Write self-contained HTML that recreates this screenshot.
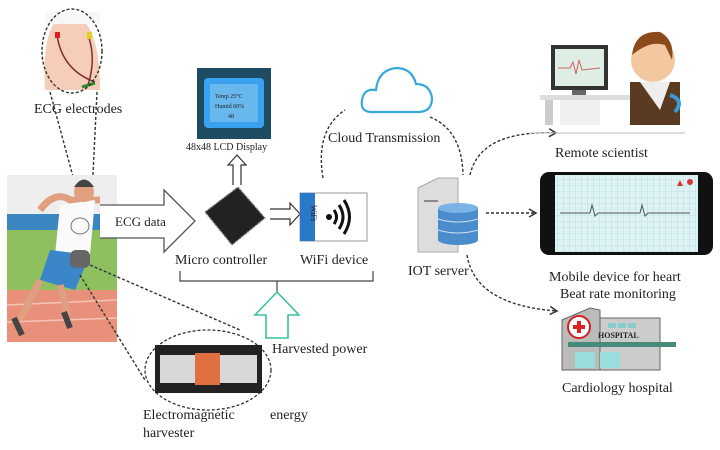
<!DOCTYPE html>
<html><head><meta charset="utf-8"><style>
html,body{margin:0;padding:0;background:#fff;}
svg{display:block;}
text{font-family:"Liberation Serif",serif;fill:#222;}
</style></head><body>
<svg width="720" height="450" viewBox="0 0 720 450" xmlns="http://www.w3.org/2000/svg">
<defs>
<marker id="ah" markerWidth="10" markerHeight="10" refX="8" refY="5" orient="auto" markerUnits="userSpaceOnUse"><path d="M1,1 L8,5 L1,9" fill="none" stroke="#333" stroke-width="1.5"/></marker>
<pattern id="grid" width="6" height="6" patternUnits="userSpaceOnUse"><rect width="6" height="6" fill="#dff3f5"/><path d="M6,0V6M0,6H6" stroke="#9dd3da" stroke-width="0.6"/></pattern>
</defs>

<!-- ECG torso -->
<path d="M45,90 Q42,40 55,22 Q70,12 85,22 Q100,40 100,90 Z" fill="#f5cdb8"/>
<rect x="45" y="12" width="55" height="12" fill="#f7f7f7"/>
<path d="M57,35 Q62,70 95,82" fill="none" stroke="#7a3030" stroke-width="1.5"/>
<path d="M89,38 Q96,60 88,85" fill="none" stroke="#7a3030" stroke-width="1.5"/>
<rect x="55" y="32" width="5" height="6" fill="#d92020"/>
<rect x="87" y="32" width="5" height="7" fill="#e0d020"/>
<path d="M82,87 L95,83" stroke="#2a8a2a" stroke-width="3"/>
<ellipse cx="72" cy="51" rx="30" ry="42" fill="none" stroke="#333" stroke-width="1.4" stroke-dasharray="3,2"/>
<text x="34" y="113" font-size="14">ECG electrodes</text>
<path d="M50,92 L78,195" stroke="#333" stroke-width="1.4" stroke-dasharray="3,2"/>
<path d="M97,92 L92,195" stroke="#333" stroke-width="1.4" stroke-dasharray="3,2"/>

<!-- runner -->
<rect x="7" y="175" width="110" height="167" fill="#eeeeee"/>
<rect x="7" y="214" width="110" height="16" fill="#3a86c0"/>
<rect x="7" y="230" width="110" height="60" fill="#8ec060"/>
<rect x="7" y="290" width="110" height="52" fill="#e9907a"/>
<path d="M7,305 L117,300 M7,322 L117,318" stroke="#f4c4b8" stroke-width="1.5"/>
<path d="M40,210 Q55,190 70,200 L100,200" stroke="#e0a080" stroke-width="7" fill="none"/>
<path d="M60,205 L95,200 L90,255 L55,255 Z" fill="#fafafa"/>
<path d="M50,250 L90,255 L75,290 L40,280 Z" fill="#3a86c8"/>
<circle cx="84" cy="192" r="10" fill="#e0a080"/>
<path d="M74,187 Q84,172 94,187 Z" fill="#444"/>
<path d="M40,280 L20,320 M60,285 L68,315" stroke="#e0a080" stroke-width="7"/>
<path d="M14,318 L22,335 M64,312 L70,328" stroke="#444" stroke-width="6"/>
<ellipse cx="80" cy="226" rx="9" ry="8" fill="none" stroke="#777" stroke-width="1"/>
<rect x="70" y="250" width="20" height="18" rx="6" fill="#666"/>
<!-- knee dashed lines -->
<path d="M90,265 L240,330" stroke="#333" stroke-width="1.4" stroke-dasharray="3,2"/>
<path d="M80,275 L145,380" stroke="#333" stroke-width="1.4" stroke-dasharray="3,2"/>

<!-- ECG data arrow -->
<path d="M100,205 L164,205 L164,190 L195,221 L164,252 L164,238 L100,238" fill="#fff" stroke="#555" stroke-width="1.3"/>
<text x="115" y="226" font-size="13">ECG data</text>

<!-- LCD -->
<rect x="197" y="68" width="74" height="71" fill="#1d4c62"/>
<rect x="204" y="78" width="60" height="50" rx="4" fill="#3aa0f0"/>
<rect x="210" y="84" width="48" height="38" fill="#68b8ee"/>
<text x="215" y="98" font-size="6" fill="#1a3a70">Temp 25°C</text>
<text x="215" y="108" font-size="6" fill="#1a3a70">Humid 60%</text>
<text x="228" y="118" font-size="6" fill="#1a3a70">48</text>
<text x="186" y="150" font-size="10">48x48 LCD Display</text>
<!-- up arrow to LCD -->
<path d="M233,185 L233,165 L228,165 L237,155 L246,165 L241,165 L241,185" fill="#fff" stroke="#333" stroke-width="1.2"/>

<!-- chip -->
<path d="M205,212 L238,187 L265,218 L232,245 Z" fill="#222" stroke="#888" stroke-width="1.5" stroke-dasharray="1,1"/>
<!-- right arrow -->
<path d="M270,209 L290,209 L290,203 L300,214 L290,225 L290,219 L270,219" fill="#fff" stroke="#333" stroke-width="1.2"/>

<!-- wifi -->
<rect x="300" y="193" width="67" height="48" fill="#fff" stroke="#999" stroke-width="1"/>
<rect x="300" y="193" width="15" height="48" fill="#2a78c8"/>
<text x="0" y="0" font-size="8" fill="#fff" transform="translate(311,205) rotate(90)" font-family="Liberation Sans,sans-serif">WiFi</text>
<circle cx="329" cy="217" r="3" fill="#111"/>
<path d="M334,210 Q339,217 334,224 M339,205 Q347,217 339,229 M344,200 Q355,217 344,234" fill="none" stroke="#111" stroke-width="3"/>

<text x="175" y="264" font-size="14">Micro controller</text>
<text x="300" y="264" font-size="14">WiFi device</text>
<path d="M180,271 L180,281 L373,281 L373,271 M277,281 L277,292" fill="none" stroke="#444" stroke-width="1.2"/>
<!-- green up arrow -->
<path d="M266,338 L266,315 L255,315 L277,292 L299,315 L288,315 L288,338 Z" fill="#fff" stroke="#3cc0a0" stroke-width="1.6"/>
<text x="272" y="353" font-size="14">Harvested power</text>

<!-- harvester -->
<ellipse cx="208" cy="370" rx="63" ry="40" fill="none" stroke="#333" stroke-width="1.3" stroke-dasharray="3,2"/>
<rect x="155" y="345" width="107" height="48" fill="#222"/>
<rect x="160" y="355" width="97" height="28" fill="#d8d8d8"/>
<rect x="195" y="353" width="25" height="32" fill="#e07040"/>
<text x="143" y="419" font-size="14">Electromagnetic</text>
<text x="270" y="419" font-size="14">energy</text>
<text x="143" y="437" font-size="14">harvester</text>

<!-- cloud -->
<path d="M372,112 Q360,112 362,100 Q364,88 376,90 Q378,70 396,68 Q412,68 416,84 Q430,84 432,98 Q432,112 418,112 Z" fill="#fff" stroke="#38a8d8" stroke-width="2.2"/>
<text x="328" y="142" font-size="14">Cloud Transmission</text>
<path d="M323,178 Q315,130 345,110" fill="none" stroke="#333" stroke-width="1.4" stroke-dasharray="3,2"/>
<path d="M430,117 Q462,130 463,175" fill="none" stroke="#333" stroke-width="1.4" stroke-dasharray="3,2"/>

<!-- server -->
<path d="M418,188 L438,178 L458,178 L458,252 L418,252 Z" fill="#ddd" stroke="#aaa"/>
<rect x="424" y="200" width="14" height="2" fill="#888"/>
<rect x="438" y="208" width="40" height="32" fill="#4a8ccc"/>
<ellipse cx="458" cy="208" rx="20" ry="5" fill="#7ab4e6"/>
<ellipse cx="458" cy="240" rx="20" ry="5" fill="#4a8ccc"/>
<path d="M438,219 Q458,225 478,219 M438,230 Q458,236 478,230" stroke="#cde" stroke-width="1" fill="none"/>
<text x="408" y="275" font-size="14">IOT server</text>

<path d="M470,175 Q480,130 556,133" fill="none" stroke="#333" stroke-width="1.4" stroke-dasharray="3,2" marker-end="url(#ah)"/>
<path d="M486,213 L536,213" fill="none" stroke="#333" stroke-width="1.4" stroke-dasharray="3,2" marker-end="url(#ah)"/>
<path d="M467,255 Q475,305 557,311" fill="none" stroke="#333" stroke-width="1.4" stroke-dasharray="3,2" marker-end="url(#ah)"/>

<!-- scientist -->
<rect x="551" y="45" width="57" height="45" fill="#333"/>
<rect x="555" y="49" width="49" height="37" fill="#dfeee4"/>
<path d="M558,68 L570,68 L573,62 L576,74 L579,60 L582,70 L600,68" fill="none" stroke="#d06060" stroke-width="1"/>
<rect x="572" y="90" width="14" height="6" fill="#666"/>
<rect x="540" y="95" width="140" height="5" fill="#ddd"/>
<rect x="545" y="100" width="8" height="25" fill="#ccc"/>
<rect x="560" y="100" width="40" height="25" fill="#f0f0f0"/>
<path d="M530,133 L685,133" stroke="#bbb"/>
<circle cx="653" cy="60" r="22" fill="#f3c8a0"/>
<path d="M632,55 Q635,30 660,32 Q675,40 672,60 L665,45 Q650,40 632,55 Z" fill="#8a4a1a"/>
<path d="M630,82 L680,82 L680,125 L630,125 Z" fill="#5a3a20"/>
<path d="M640,82 L670,82 L660,110 Z" fill="#eee"/>
<path d="M670,95 Q685,100 675,112" stroke="#3a9ad8" stroke-width="4" fill="none"/>
<text x="555" y="157" font-size="14">Remote scientist</text>

<!-- phone -->
<rect x="540" y="172" width="173" height="83" rx="9" fill="#111"/>
<rect x="555" y="175" width="143" height="77" fill="url(#grid)"/>
<path d="M560,213 L590,213 L592,205 L595,216 L598,213 L640,213 L642,205 L645,216 L648,213 L690,213" fill="none" stroke="#555" stroke-width="1"/>
<path d="M680,180 L683,186 L677,186 Z" fill="#d33"/>
<circle cx="690" cy="182" r="3" fill="#d33"/>
<text x="549" y="281" font-size="14">Mobile device for heart</text>
<text x="560" y="298" font-size="14">Beat rate monitoring</text>

<!-- hospital -->
<path d="M562,320 L590,308 L600,310 L600,370 L562,370 Z" fill="#bbb" stroke="#666"/>
<path d="M600,318 L660,318 L660,370 L600,370 Z" fill="#ccc" stroke="#666"/>
<rect x="568" y="342" width="108" height="5" fill="#4a8a7a"/>
<circle cx="579" cy="327" r="11" fill="#fff" stroke="#c22" stroke-width="2"/>
<path d="M573,327 L585,327 M579,321 L579,333" stroke="#d22" stroke-width="4"/>
<text x="598" y="338" font-size="8" font-weight="bold" font-family="Liberation Sans,sans-serif" fill="#222">HOSPITAL</text>
<rect x="608" y="323" width="8" height="5" fill="#8cc" /><rect x="618" y="323" width="8" height="5" fill="#8cc"/><rect x="628" y="323" width="8" height="5" fill="#8cc"/>
<rect x="575" y="352" width="20" height="16" fill="#9dd"/><rect x="600" y="352" width="20" height="16" fill="#9dd"/>
<text x="562" y="392" font-size="14">Cardiology hospital</text>
</svg>
</body></html>
